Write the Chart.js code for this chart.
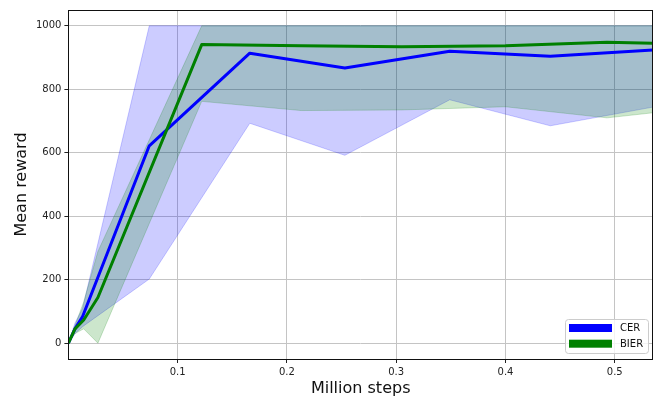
<!DOCTYPE html>
<html><head><meta charset="utf-8">
<script src="https://cdn.jsdelivr.net/npm/chart.js@4.4.0/dist/chart.umd.min.js"></script>
<style>html,body{margin:0;padding:0;background:#fff;} #wrap{width:661px;height:398px;position:relative;}</style>
</head><body><div id="wrap"><canvas id="c" width="661" height="398"></canvas></div>
<script>
// ---- data ----
const cerSteps  = [0, 0.006, 0.013, 0.074, 0.166, 0.253, 0.349, 0.441, 0.535];
const cerMean   = [0, 45, 84, 622, 914, 867, 920, 904, 924];
const cerUpper  = [0, 63, 110, 1000, 1000, 1000, 1000, 1000, 1000];
const cerLower  = [0, 30, 52, 202, 693, 592, 767, 685, 744];

const bierSteps = [0, 0.006, 0.014, 0.027, 0.122, 0.213, 0.305, 0.400, 0.493, 0.535];
const bierMean  = [0, 45, 73, 144, 941, 937, 934, 937, 948, 945];
const bierUpper = [0, 55, 130, 289, 1000, 1000, 1000, 1000, 1000, 1000];
const bierLower = [0, 30, 45, 0, 762, 733, 735, 745, 710, 726];

const xTicks = [0.1, 0.2, 0.3, 0.4, 0.5];
const yTicks = [0, 200, 400, 600, 800, 1000];
const seriesNames = ['CER', 'BIER'];
const xTitle = 'Million steps';
const yTitle = 'Mean reward';

// ---- helpers ----
const pts = (xs, ys) => xs.map((x, i) => ({x: x, y: ys[i]}));
const FONT = '"DejaVu Sans", sans-serif';
const BLUE = '#0000ff', GREEN = '#008000';
const BLUE_A = 'rgba(0,0,255,0.2)', GREEN_A = 'rgba(0,128,0,0.2)';

const framePlugin = {
  id: 'frame',
  afterDatasetsDraw(chart) {
    const {ctx, chartArea: a} = chart;
    ctx.save();
    ctx.strokeStyle = '#111';
    ctx.lineWidth = 1;
    ctx.strokeRect(Math.round(a.left) + 0.5, Math.round(a.top) + 0.5,
                   Math.round(a.right - a.left) - 1, Math.round(a.bottom - a.top));
    ctx.restore();
  }
};

const legendPlugin = {
  id: 'mplLegend',
  afterDraw(chart) {
    const {ctx, chartArea: a} = chart;
    const colors = [BLUE, GREEN];
    const bx = a.right - 88, by = a.bottom - 40, bw = 83, bh = 34;
    ctx.save();
    ctx.beginPath();
    if (ctx.roundRect) ctx.roundRect(bx + 0.5, by + 0.5, bw, bh, 3); else ctx.rect(bx + 0.5, by + 0.5, bw, bh);
    ctx.fillStyle = 'rgba(255,255,255,0.8)';
    ctx.fill();
    ctx.strokeStyle = '#cccccc';
    ctx.lineWidth = 1;
    ctx.stroke();
    ctx.font = '10px ' + FONT;
    ctx.textBaseline = 'middle';
    ctx.textAlign = 'left';
    seriesNames.forEach((name, i) => {
      const y = by + 5 + i * 15.7;
      ctx.fillStyle = colors[i];
      ctx.fillRect(bx + 4, y, 43, 8);
      ctx.fillStyle = '#111';
      ctx.fillText(name, bx + 55, y + 4.5);
    });
    ctx.restore();
  }
};

new Chart(document.getElementById('c'), {
  type: 'line',
  data: {
    datasets: [
      {label: 'CER upper', data: pts(cerSteps, cerUpper), borderColor: BLUE_A, borderWidth: 1, pointRadius: 0, fill: false, order: 5},
      {label: 'CER lower', data: pts(cerSteps, cerLower), borderColor: BLUE_A, borderWidth: 1, backgroundColor: BLUE_A, pointRadius: 0, fill: 0, order: 4},
      {label: 'BIER upper', data: pts(bierSteps, bierUpper), borderColor: GREEN_A, borderWidth: 1, pointRadius: 0, fill: false, order: 3},
      {label: 'BIER lower', data: pts(bierSteps, bierLower), borderColor: GREEN_A, borderWidth: 1, backgroundColor: GREEN_A, pointRadius: 0, fill: 2, order: 2},
      {label: seriesNames[0], data: pts(cerSteps, cerMean), borderColor: BLUE, borderWidth: 3, pointRadius: 0, fill: false, order: 1},
      {label: seriesNames[1], data: pts(bierSteps, bierMean), borderColor: GREEN, borderWidth: 3, pointRadius: 0, fill: false, order: 0}
    ]
  },
  options: {
    responsive: false,
    animation: false,
    devicePixelRatio: 1,
    layout: {padding: {top: 10, right: 8, left: 0, bottom: 0}},
    elements: {line: {tension: 0, borderJoinStyle: 'round', borderCapStyle: 'butt'}},
    plugins: {legend: {display: false}, tooltip: {enabled: false}, filler: {propagate: false}},
    scales: {
      x: {
        type: 'linear', min: 0, max: 0.535,
        afterBuildTicks: s => { s.ticks = xTicks.map(v => ({value: v})); },
        afterFit: s => { s.height = 39; },
        ticks: {font: {family: FONT, size: 10}, color: '#222', padding: 3, maxRotation: 0,
                callback: v => v.toFixed(1)},
        grid: {color: '#c4c4c4', lineWidth: 1, tickLength: 4, tickColor: '#222', drawTicks: true},
        border: {display: false},
        title: {display: true, text: xTitle, font: {family: FONT, size: 16}, color: '#111', padding: {top: 0, bottom: 0}}
      },
      y: {
        type: 'linear', min: -50, max: 1050,
        afterBuildTicks: s => { s.ticks = yTicks.map(v => ({value: v})); },
        afterFit: s => { s.width = 68.4; },
        ticks: {font: {family: FONT, size: 10}, color: '#222', padding: 3, callback: v => String(v)},
        grid: {color: '#c4c4c4', lineWidth: 1, tickLength: 4, tickColor: '#222', drawTicks: true},
        border: {display: false},
        title: {display: true, text: yTitle, font: {family: FONT, size: 16}, color: '#111', padding: {top: 12, bottom: 0}}
      }
    }
  },
  plugins: [framePlugin, legendPlugin]
});
</script>
</body></html>
